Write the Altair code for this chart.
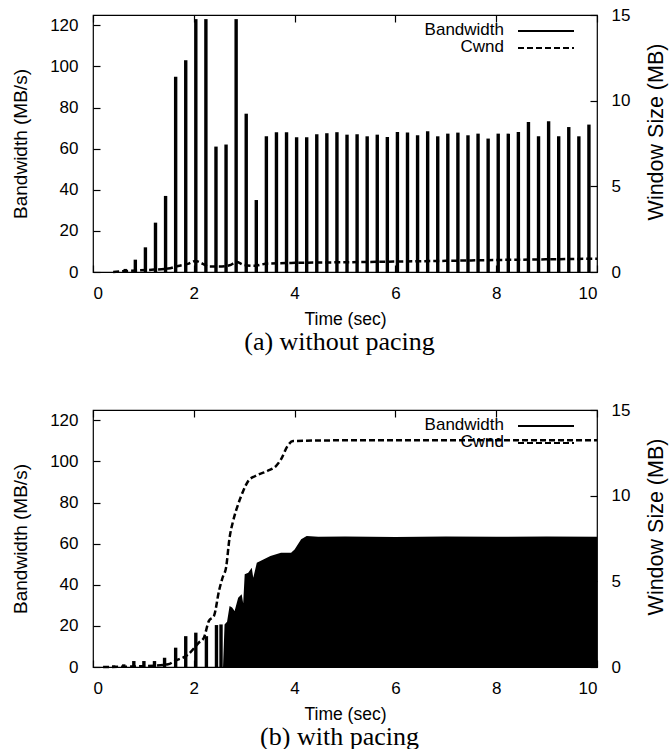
import altair as alt
import pandas as pd

# ---------------- Panel (a): without pacing ----------------
a_spike_time = [0.64, 0.84, 1.04, 1.24, 1.44, 1.64, 1.84, 2.04, 2.24, 2.44,
                2.64, 2.84, 3.04, 3.24, 3.44, 3.64, 3.84, 4.04, 4.24, 4.44,
                4.64, 4.84, 5.04, 5.24, 5.44, 5.64, 5.84, 6.04, 6.24, 6.44,
                6.64, 6.84, 7.04, 7.24, 7.44, 7.64, 7.84, 8.04, 8.24, 8.44,
                8.64, 8.84, 9.04, 9.24, 9.44, 9.64, 9.84]
a_spike_bw = [1.5, 6, 12, 24, 37, 95, 103, 123, 123, 61,
              62, 123, 77, 35, 66, 68, 68, 65.5, 65.5, 67,
              67.5, 68, 66.8, 67, 66, 66.8, 65.7, 68.1, 67.8, 66.5,
              68.4, 66, 67.3, 67.8, 66.5, 67.3, 64.9, 67.3, 67.3, 68.1,
              73, 66, 73.3, 66, 70.5, 66, 71.7]
a_cwnd_time = [0.4, 0.67, 1.21, 1.49, 1.69, 1.90, 2.03, 2.17, 2.30, 2.50, 2.71,
               2.85, 2.98, 3.19, 3.46, 3.93, 5.0, 6.0, 7.0, 8.0, 9.0, 10.0]
a_cwnd = [0, 0.06, 0.14, 0.2, 0.35, 0.49, 0.64, 0.49, 0.32, 0.32, 0.39,
          0.58, 0.43, 0.36, 0.49, 0.53, 0.57, 0.61, 0.65, 0.70, 0.74, 0.78]

# ---------------- Panel (b): with pacing ----------------
b_spike_time = [0.41, 0.61, 0.81, 1.01, 1.22, 1.42, 1.64, 1.84, 2.04, 2.25, 2.45, 2.54]
b_spike_bw = [0.8, 1.3, 2.9, 2.9, 2.9, 4.5, 9.4, 15, 16.7, 15, 20.4, 20.7]
b_fill_time = [2.58, 2.61, 2.66, 2.71, 2.76, 2.81, 2.88, 2.95, 2.98, 3.01, 3.08,
               3.15, 3.18, 3.25, 3.39, 3.52, 3.73, 3.93, 4.0, 4.13, 4.24, 4.47,
               5.0, 6.0, 7.0, 8.0, 9.0, 10.0]
b_fill_bw = [0, 20.7, 22, 29.7, 29, 27.2, 33.7, 35.4, 31, 45.1, 45.9,
             48.3, 43.4, 50.7, 52.4, 54, 55.6, 55.6, 57.2, 62.1, 63.7, 63.4,
             63.5, 63.2, 63.5, 63.3, 63.5, 63.4]
b_cwnd_time = [0.2, 1.0, 1.49, 1.62, 1.89, 2.10, 2.20, 2.30, 2.40, 2.50, 2.57,
               2.64, 2.71, 2.78, 2.88, 2.98, 3.08, 3.22, 3.46, 3.63, 3.73, 3.86,
               3.97, 5.0, 10.0]
b_cwnd = [0, 0.05, 0.16, 0.35, 0.74, 1.42, 1.71, 2.69, 2.98, 4.44, 5.21,
          5.8, 7.55, 8.52, 9.5, 10.27, 10.86, 11.15, 11.44, 11.73, 12.12, 12.9,
          13.19, 13.23, 13.23]

x_ticks = [0, 2, 4, 6, 8, 10]
bw_ticks = [0, 20, 40, 60, 80, 100, 120]
cw_ticks = [0, 5, 10, 15]
legend_labels = ["Bandwidth", "Cwnd"]

SANS = "Liberation Sans"
SERIF = "Liberation Serif"
W, H = 504, 257


def panel(spike_t, spike_bw, cwnd_t, cwnd_v, caption, fill_t=None, fill_bw=None):
    x_scale = alt.Scale(domain=[0, 10], nice=False, zero=False)
    bw_scale = alt.Scale(domain=[0, 125], nice=False)
    cw_scale = alt.Scale(domain=[0, 15], nice=False)

    x_axis = alt.Axis(values=x_ticks, title="Time (sec)", tickSize=7, offset=-7,
                      domain=False, grid=False, labelPadding=13, titlePadding=9,
                      titleFontSize=17.5)
    top_axis = alt.Axis(orient="top", values=x_ticks, labels=False, title=None,
                        tickSize=7, offset=-7, domain=False, grid=False)
    left_axis = alt.Axis(values=bw_ticks, title="Bandwidth (MB/s)", tickSize=7,
                         offset=-7, domain=False, grid=False, labelPadding=15,
                         titlePadding=19)
    right_axis = alt.Axis(orient="right", values=cw_ticks, title="Window Size (MB)",
                          tickSize=7, offset=-7, domain=False, grid=False,
                          labelPadding=14, titlePadding=16, titleAngle=270,
                          titleBaseline="top", titleFontSize=21.5, titleY=116.5)

    spikes = alt.Chart(pd.DataFrame({"t": spike_t, "bw": spike_bw})).mark_rule(
        color="black", strokeWidth=3.4
    ).encode(
        x=alt.X("t:Q", scale=x_scale, axis=x_axis),
        y=alt.Y("bw:Q", scale=bw_scale, axis=left_axis),
        y2=alt.datum(0),
    )
    bw_layers = [spikes]
    if fill_t is not None:
        fill = alt.Chart(pd.DataFrame({"t": fill_t, "bw": fill_bw})).mark_area(
            color="black", opacity=1
        ).encode(
            x=alt.X("t:Q", scale=x_scale, axis=x_axis),
            y=alt.Y("bw:Q", scale=bw_scale, axis=left_axis),
        )
        bw_layers.append(fill)
    bw = alt.layer(*bw_layers)

    cwnd = alt.Chart(pd.DataFrame({"t": cwnd_t, "cw": cwnd_v})).mark_line(
        color="black", strokeWidth=2.5, strokeDash=[6, 3], interpolate="monotone"
    ).encode(
        x=alt.X("t:Q", scale=x_scale, axis=top_axis),
        y=alt.Y("cw:Q", scale=cw_scale, axis=right_axis),
    )

    lab1 = alt.Chart(pd.DataFrame({"label": [legend_labels[0]]})).mark_text(
        align="right", baseline="middle", font=SANS, fontSize=17, color="black"
    ).encode(text="label:N", x=alt.value(411), y=alt.value(15))
    lab2 = alt.Chart(pd.DataFrame({"label": [legend_labels[1]]})).mark_text(
        align="right", baseline="middle", font=SANS, fontSize=17, color="black"
    ).encode(text="label:N", x=alt.value(411), y=alt.value(32))
    sym1 = alt.Chart(pd.DataFrame({"label": [legend_labels[0]]})).mark_rule(
        color="black", strokeWidth=2
    ).encode(x=alt.value(425), x2=alt.value(481), y=alt.value(16))
    sym2 = alt.Chart(pd.DataFrame({"label": [legend_labels[1]]})).mark_rule(
        color="black", strokeWidth=2, strokeDash=[6, 3]
    ).encode(x=alt.value(425), x2=alt.value(481), y=alt.value(33))

    return alt.layer(bw, cwnd, lab1, sym1, lab2, sym2).resolve_scale(
        y="independent"
    ).resolve_axis(x="independent").properties(
        width=W, height=H,
        title=alt.TitleParams(caption, orient="bottom", font=SERIF, fontSize=26,
                              fontWeight="normal", color="black", anchor="middle",
                              frame="bounds", offset=1),
    )


top = panel(a_spike_time, a_spike_bw, a_cwnd_time, a_cwnd, "(a) without pacing")
bottom = panel(b_spike_time, b_spike_bw, b_cwnd_time, b_cwnd, "(b) with pacing",
               b_fill_time, b_fill_bw)

chart = alt.vconcat(top, bottom, spacing=44).properties(
    padding={"left": 11, "top": 5, "right": 0, "bottom": 0},
    background="white",
).configure_view(
    stroke="black", strokeWidth=1.2
).configure_axis(
    labelFont=SANS, labelFontSize=17, labelColor="black",
    titleFont=SANS, titleFontSize=19, titleFontWeight="normal", titleColor="black",
    tickColor="black", tickWidth=1.2,
)

chart.save("out.html", embed_options={"renderer": "svg", "actions": False})
